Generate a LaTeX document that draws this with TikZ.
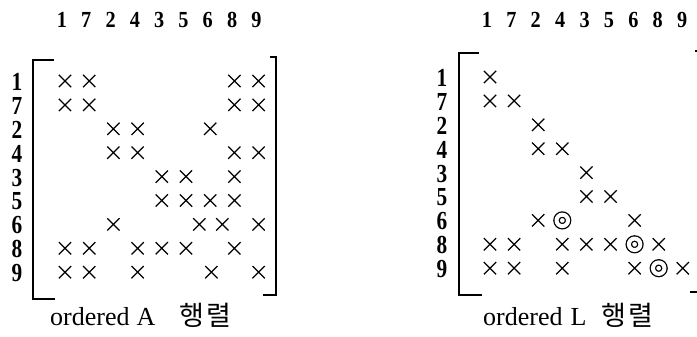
\documentclass[tikz,border=0pt]{standalone}
\usepackage{fontspec}
\setmainfont{Liberation Serif}
\newfontfamily\kr{Noto Sans CJK KR}
\usetikzlibrary{shapes.misc}
\begin{document}
\begin{tikzpicture}[x=1pt,y=-1pt,
  xentry/.style={draw, cross out, minimum size=11pt, inner sep=0pt, line width=1.25pt},
  ring/.style={draw, circle, minimum size=11.5pt, inner sep=0pt, line width=1.3pt, double, double distance=4pt},
  colhead/.style={font=\fontsize{23}{23}\selectfont\bfseries, inner sep=0pt, anchor=base},
  rowhead/.style={font=\fontsize{26}{26}\selectfont\bfseries, inner sep=0pt},
  captext/.style={font=\fontsize{26}{26}\selectfont, inner sep=0pt, anchor=base west},
  bracket/.style={line width=1.2pt}]
\useasboundingbox (0,0) rectangle (697,337);

% ---------- ordered A ----------
\foreach \lab [count=\i from 0] in {1,7,2,4,3,5,6,8,9}{
  \node[colhead] (ac\i) at ({62+24.3*\i},28) {\scalebox{0.88}[1]{\lab}};
  \node[rowhead] (ar\i) at (17,{82+23.9*\i}) {\scalebox{0.82}[1]{\lab}};
}
\foreach \r/\c [count=\k] in {0/0,0/1,0/7,0/8, 1/0,1/1,1/7,1/8,
    2/2,2/3,2/6, 3/2,3/3,3/7,3/8, 4/4,4/5,4/7, 5/4,5/5,5/6,5/7,
    6/2,6/5.55,6/6.5,6/8, 7/0,7/1,7/3,7/4,7/5,7/7, 8/0,8/1,8/3,8/6.05,8/8}
  \node[xentry] (a\k) at ({65+24.2*\c},{81+23.9*\r}) {};
\draw[bracket] (54,60) -- (33,60) -- (33,299) -- (55,299);
\draw[bracket] (270,57) -- (276,57) -- (276,295) -- (263,295);
\node[captext] (acap) at (50,325) {ordered\hspace{7pt}A\hspace{24pt}{\kr\fontsize{27}{27}\selectfont 행\hspace{2pt}렬}};

% ---------- ordered L ----------
\foreach \lab [count=\i from 0] in {1,7,2,4,3,5,6,8,9}{
  \node[colhead] (lc\i) at ({487+24.4*\i},28) {\scalebox{0.88}[1]{\lab}};
  \node[rowhead] (lr\i) at (442,{78+23.9*\i}) {\scalebox{0.82}[1]{\lab}};
}
\foreach \r/\c [count=\k] in {0/0, 1/0,1/1, 2/2, 3/2,3/3, 4/4, 5/4,5/5,
    6/2,6/6, 7/0,7/1,7/3,7/4,7/5,7/7, 8/0,8/1,8/3,8/6,8/8}
  \node[xentry] (l\k) at ({490+24.1*\c},{77+23.9*\r}) {};
% fill-in entries
\foreach \r/\c [count=\k] in {6/3, 7/6, 8/7}
  \node[ring] (f\k) at ({490+24.1*\c},{77+23.9*\r}) {};
\draw[bracket] (479,53) -- (459,53) -- (459,295) -- (482,295);
\draw[bracket] (695,51) -- (697,51);
\draw[bracket] (690,292) -- (697,292);
\node[captext] (lcap) at (483,325) {ordered\hspace{8pt}L\hspace{15pt}{\kr\fontsize{27}{27}\selectfont 행\hspace{2pt}렬}};
\end{tikzpicture}
\end{document}
